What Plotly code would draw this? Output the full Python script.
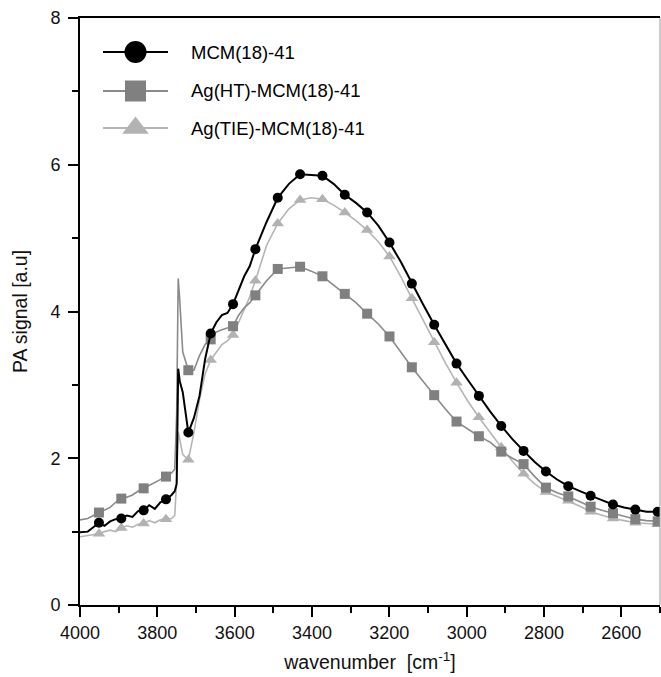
import plotly.graph_objects as go

# ---------------- data ----------------
wavenumber = [4000, 3980, 3965.5, 3951.0, 3936.6, 3922.1, 3907.7, 3893.2, 3878.8, 3864.3,
              3849.9, 3835.4, 3821.0, 3806.5, 3792.1, 3777.6, 3763.2, 3755, 3750, 3746,
              3742, 3734.3, 3719.8, 3705.4, 3690.9, 3676.5, 3662.0, 3647.6, 3633.1, 3618.7,
              3604.2, 3589.8, 3575.3, 3560.9, 3546.4, 3517.5, 3488.6, 3459.7, 3430.8, 3401.9,
              3373.0, 3344.1, 3315.2, 3286.3, 3257.4, 3228.5, 3199.6, 3170.7, 3141.8, 3112.9,
              3084.0, 3055.1, 3026.2, 2997.3, 2968.4, 2939.5, 2910.6, 2881.7, 2852.8, 2823.9,
              2795.0, 2766.1, 2737.2, 2708.3, 2679.4, 2650.5, 2621.6, 2592.7, 2563.8, 2534.9,
              2506.0, 2500]

marker_wavenumber = [3951.0, 3893.2, 3835.4, 3777.6, 3719.8, 3662.0, 3604.2, 3546.4, 3488.6,
                     3430.8, 3373.0, 3315.2, 3257.4, 3199.6, 3141.8, 3084.0, 3026.2, 2968.4,
                     2910.6, 2852.8, 2795.0, 2737.2, 2679.4, 2621.6, 2563.8, 2506.0]

mcm = [0.99, 1.00, 1.06, 1.12, 1.08, 1.14, 1.17, 1.18, 1.22, 1.20,
       1.28, 1.29, 1.36, 1.31, 1.40, 1.44, 1.50, 1.55, 1.65, 3.22,
       3.05, 2.90, 2.35, 2.55, 2.85, 3.35, 3.70, 3.85, 3.95, 3.98,
       4.10, 4.30, 4.48, 4.62, 4.85,
       5.22, 5.55, 5.74, 5.87, 5.86, 5.85, 5.74, 5.59, 5.48, 5.35,
       5.17, 4.94, 4.68, 4.38, 4.10, 3.82, 3.55, 3.29, 3.07, 2.85,
       2.64, 2.44, 2.26, 2.10, 1.95, 1.82, 1.71, 1.62, 1.55, 1.49,
       1.43, 1.37, 1.33, 1.30, 1.27, 1.27, 1.26]

ag_ht = [1.16, 1.18, 1.22, 1.26, 1.30, 1.33, 1.40, 1.45, 1.47, 1.50,
         1.55, 1.59, 1.62, 1.66, 1.70, 1.75, 1.80, 1.85, 2.60, 4.45,
         4.15, 3.45, 3.20, 3.20, 3.40, 3.55, 3.62, 3.72, 3.75, 3.78,
         3.80, 3.95, 4.05, 4.12, 4.22,
         4.42, 4.58, 4.60, 4.61, 4.55, 4.48, 4.36, 4.24, 4.12, 3.97,
         3.83, 3.66, 3.45, 3.24, 3.05, 2.86, 2.67, 2.50, 2.40, 2.30,
         2.22, 2.09, 2.00, 1.92, 1.75, 1.60, 1.53, 1.48, 1.41, 1.34,
         1.29, 1.25, 1.21, 1.17, 1.15, 1.14, 1.14]

ag_tie = [0.93, 0.95, 0.96, 0.97, 1.00, 1.02, 1.00, 1.05, 1.08, 1.06,
          1.10, 1.11, 1.15, 1.12, 1.16, 1.17, 1.18, 1.22, 1.70, 2.36,
          2.25, 2.05, 1.98, 2.35, 2.80, 3.15, 3.34, 3.45, 3.55, 3.60,
          3.68, 3.85, 4.02, 4.20, 4.42,
          4.90, 5.20, 5.40, 5.52, 5.55, 5.53, 5.45, 5.35, 5.24, 5.11,
          4.95, 4.75, 4.48, 4.18, 3.88, 3.58, 3.30, 3.03, 2.78, 2.56,
          2.35, 2.15, 1.96, 1.79, 1.65, 1.54, 1.48, 1.42, 1.35, 1.27,
          1.22, 1.18, 1.15, 1.12, 1.11, 1.10, 1.10]

series_names = ["MCM(18)-41", "Ag(HT)-MCM(18)-41", "Ag(TIE)-MCM(18)-41"]
x_tickvals = [4000, 3800, 3600, 3400, 3200, 3000, 2800, 2600]
y_tickvals = [0, 2, 4, 6, 8]

# ---------------- styling ----------------
FONT = "Liberation Sans, Arial, sans-serif"
W, H = 661, 677
ML, MR, MT, MB = 80, 1, 18, 72
styles = [
    dict(line="#000000", marker="#000000", symbol="circle", size=10, lw=2.0, lsize=22),
    dict(line="#8a8a8a", marker="#808080", symbol="square", size=10, lw=1.6, lsize=21),
    dict(line="#b5b5b5", marker="#b2b2b2", symbol="triangle-up", size=11, lw=1.6, lsize=23),
]
series = [mcm, ag_ht, ag_tie]

fig = go.Figure()
marker_idx = [wavenumber.index(w) for w in marker_wavenumber]

# draw light grey first, black last (on top)
for k in [2, 1, 0]:
    st = styles[k]
    ys = series[k]
    fig.add_trace(go.Scatter(
        x=wavenumber, y=ys, mode="lines",
        line=dict(color=st["line"], width=st["lw"]),
        showlegend=False, hoverinfo="skip"))
    fig.add_trace(go.Scatter(
        x=[wavenumber[i] for i in marker_idx], y=[ys[i] for i in marker_idx],
        mode="markers",
        marker=dict(symbol=st["symbol"], size=st["size"], color=st["marker"],
                    line=dict(width=0)),
        showlegend=False, hoverinfo="skip"))

# ---------------- manual legend (pixel positions -> paper) ----------------
pw = W - ML - MR
ph = H - MT - MB


def px(xp):
    return (xp - ML) / pw


def py(yp):
    return (H - MB - yp) / ph


legend_rows = [52, 91, 128]
for k, yrow in enumerate(legend_rows):
    st = styles[k]
    fig.add_trace(go.Scatter(
        x=[px(103), px(168)], y=[py(yrow), py(yrow)], mode="lines",
        xaxis="x2", yaxis="y2",
        line=dict(color=st["line"], width=2), showlegend=False, hoverinfo="skip"))
    fig.add_trace(go.Scatter(
        x=[px(135.5)], y=[py(yrow)], mode="markers", xaxis="x2", yaxis="y2",
        marker=dict(symbol=st["symbol"], size=st["lsize"], color=st["marker"],
                    line=dict(width=0)),
        showlegend=False, hoverinfo="skip"))
    fig.add_annotation(
        x=px(189), y=py(yrow), xref="paper", yref="paper",
        text=series_names[k], showarrow=False, xanchor="left", yanchor="middle",
        font=dict(family=FONT, size=18.5, color="#000"))

fig.update_layout(
    width=W, height=H,
    margin=dict(l=ML, r=MR, t=MT, b=MB, pad=0),
    paper_bgcolor="white", plot_bgcolor="white",
    font=dict(family=FONT, size=18, color="#000"),
    showlegend=False,
    xaxis=dict(
        range=[4000, 2500], tickvals=x_tickvals, ticks="outside", ticklen=10,
        tickwidth=1.5, tickcolor="#000", showline=True, linecolor="#000", linewidth=2,
        mirror=True, showgrid=False, zeroline=False,
        minor=dict(dtick=100, ticks="outside", ticklen=6, tickwidth=1.5, tickcolor="#000",
                   showgrid=False),
        tickfont=dict(family=FONT, size=18, color="#111"),
        title=dict(text="wavenumber &nbsp;[cm<sup>-1</sup>]", standoff=14,
                   font=dict(family=FONT, size=19.5, color="#111")),
    ),
    yaxis=dict(
        range=[0, 8], tickvals=y_tickvals, ticks="outside", ticklen=10,
        tickwidth=1.5, tickcolor="#000", showline=True, linecolor="#000", linewidth=2,
        showgrid=False, zeroline=False,
        minor=dict(dtick=1, ticks="outside", ticklen=6, tickwidth=1.5, tickcolor="#000",
                   showgrid=False),
        tickfont=dict(family=FONT, size=18, color="#111"),
        ticklabelstandoff=4,
        title=dict(text="PA signal [a.u]", standoff=18,
                   font=dict(family=FONT, size=19.5, color="#111")),
    ),
    xaxis2=dict(range=[0, 1], overlaying="x", visible=False, fixedrange=True),
    yaxis2=dict(range=[0, 1], overlaying="y", visible=False, fixedrange=True),
    shapes=[dict(type="line", xref="paper", yref="paper", x0=1, x1=1, y0=0, y1=1,
                 line=dict(color="#9a9a9a", width=1))],
)

fig.write_html("out.html")
